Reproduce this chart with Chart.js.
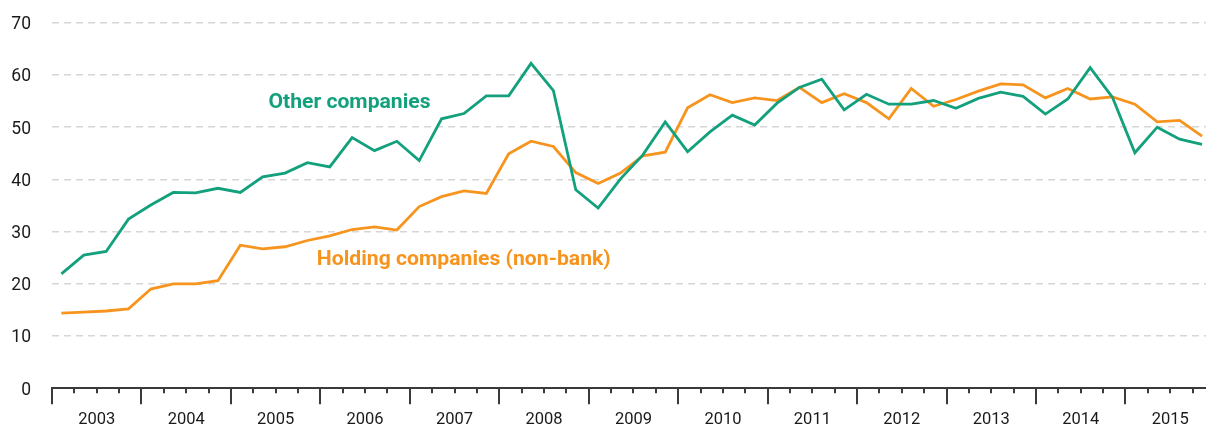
<!DOCTYPE html>
<html>
<head>
<meta charset="utf-8">
<script src="https://cdn.jsdelivr.net/npm/chart.js@4.4.1/dist/chart.umd.min.js"></script>
<style>
  html, body { margin: 0; padding: 0; background: #fff; }
  #wrap { width: 1206px; height: 425px; position: relative; }
</style>
</head>
<body>
<div id="wrap"><canvas id="c" width="1206" height="425"></canvas></div>
<script>
// ---- data (quarterly, 2003 Q1 .. 2015 Q4) ----
const years = ['2003','2004','2005','2006','2007','2008','2009','2010','2011','2012','2013','2014','2015'];
const quarters = ['Q1','Q2','Q3','Q4'];
const otherCompanies = [
  21.9, 25.5, 26.2, 32.4, 35.1, 37.5, 37.4, 38.3, 37.5, 40.5, 41.2, 43.2, 42.4, 48.0, 45.5, 47.3,
  43.6, 51.6, 52.6, 56.0, 56.0, 62.2, 57.0, 38.0, 34.5, 40.1, 44.7, 51.0, 45.3, 49.1, 52.3, 50.4,
  54.6, 57.6, 59.2, 53.3, 56.3, 54.4, 54.4, 55.1, 53.6, 55.5, 56.7, 55.9, 52.5, 55.4, 61.4, 55.7,
  45.1, 50.0, 47.7, 46.7
];
const holdingCompanies = [
  14.4, 14.6, 14.8, 15.2, 19.0, 20.0, 20.0, 20.6, 27.4, 26.7, 27.1, 28.3, 29.2, 30.4, 30.9, 30.3,
  34.8, 36.7, 37.8, 37.3, 44.9, 47.3, 46.3, 41.3, 39.2, 41.2, 44.5, 45.2, 53.7, 56.2, 54.7, 55.6,
  55.1, 57.6, 54.7, 56.4, 54.7, 51.6, 57.4, 54.0, 55.3, 56.9, 58.3, 58.1, 55.6, 57.4, 55.4, 55.8,
  54.4, 51.0, 51.3, 48.3
];
const yTicks = [0, 10, 20, 30, 40, 50, 60, 70];
const seriesNames = ['Other companies', 'Holding companies (non-bank)'];

const GREEN = '#13a07c';
const ORANGE = '#f7941e';
const FONT = "Roboto, 'Liberation Sans', sans-serif";
const Q_OFFSET = 0.42;  // point position inside its quarter
const X_MAX = 51.6;     // visible part of the time axis (in quarters from 2003 Q1)

const toPoints = arr => arr.map((v, i) => ({ x: i + Q_OFFSET, y: v }));

// tick marks (quarters minor, years major) drawn from the x scale
const tickMarks = {
  id: 'tickMarks',
  afterDraw(chart) {
    const xs = chart.scales.x, ctx = chart.ctx;
    const y0 = chart.chartArea.bottom;
    ctx.save();
    ctx.strokeStyle = '#3a3a3a';
    ctx.lineWidth = 2;
    for (let q = 0; q <= years.length * quarters.length; q++) {
      if (q > xs.max) break;
      const px = Math.round(xs.getPixelForValue(q));
      const len = (q % 4 === 0) ? 16 : 5;
      ctx.beginPath();
      ctx.moveTo(px, y0);
      ctx.lineTo(px, y0 + len);
      ctx.stroke();
    }
    ctx.restore();
  }
};

// series labels drawn next to the lines
const seriesLabels = {
  id: 'seriesLabels',
  afterDatasetsDraw(chart) {
    const xs = chart.scales.x, ys = chart.scales.y, ctx = chart.ctx;
    const items = [
      { text: seriesNames[0], color: GREEN, x: 9.68, y: 53.7, w: 162 },
      { text: seriesNames[1], color: ORANGE, x: 11.84, y: 23.6, w: 294 }
    ];
    ctx.save();
    ctx.font = "bold 21px " + FONT;
    ctx.textBaseline = 'alphabetic';
    ctx.textAlign = 'left';
    items.forEach(it => {
      const px = xs.getPixelForValue(it.x);
      const py = ys.getPixelForValue(it.y);
      const m = ctx.measureText(it.text).width;
      const sx = it.w / m;
      ctx.save();
      ctx.translate(px, py);
      ctx.scale(sx, 1);
      ctx.fillStyle = it.color;
      ctx.fillText(it.text, 0, 0);
      ctx.restore();
    });
    ctx.restore();
  }
};

new Chart(document.getElementById('c'), {
  type: 'line',
  data: {
    datasets: [
      { label: seriesNames[0], data: toPoints(otherCompanies), borderColor: GREEN, borderWidth: 2.8, pointRadius: 0, tension: 0, fill: false },
      { label: seriesNames[1], data: toPoints(holdingCompanies), borderColor: ORANGE, borderWidth: 2.8, pointRadius: 0, tension: 0, fill: false }
    ]
  },
  options: {
    responsive: false,
    animation: false,
    devicePixelRatio: 1,
    layout: { padding: { top: 22.7, right: 0, left: 0, bottom: 0 } },
    plugins: { legend: { display: false }, tooltip: { enabled: false } },
    scales: {
      x: {
        type: 'linear',
        min: 0,
        max: X_MAX,
        afterBuildTicks(scale) {
          scale.ticks = years.map((y, i) => ({ value: i * 4 + 2 }));
        },
        afterFit(scale) { scale.height = 36.7; scale.paddingLeft = 0; scale.paddingRight = 0; },
        grid: { display: false, drawTicks: false },
        border: { display: true, color: '#3a3a3a', width: 2 },
        ticks: {
          autoSkip: false,
          maxRotation: 0,
          padding: 22,
          color: '#1a1a1a',
          font: { family: FONT, size: 16.5 },
          callback: (v) => years[Math.round((v - 2) / 4)]
        }
      },
      y: {
        min: 0,
        max: 70,
        afterBuildTicks(scale) {
          scale.ticks = yTicks.map(v => ({ value: v }));
        },
        afterFit(scale) { scale.width = 52; scale.paddingTop = 0; scale.paddingBottom = 0; },
        grid: {
          drawTicks: false,
          color: (c) => c.tick && c.tick.value === 0 ? 'rgba(0,0,0,0)' : '#d6d6d6',
          lineWidth: 1.5
        },
        border: { display: false, dash: [7, 5] },
        ticks: {
          padding: 21,
          labelOffset: 2,
          color: '#1a1a1a',
          font: { family: FONT, size: 17.5 }
        }
      }
    }
  },
  plugins: [tickMarks, seriesLabels]
});
</script>
</body>
</html>
